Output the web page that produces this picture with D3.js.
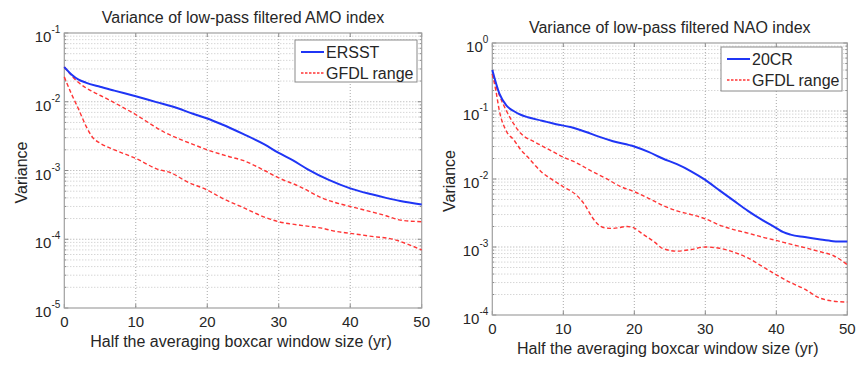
<!DOCTYPE html>
<html>
<head>
<meta charset="utf-8">
<script src="https://cdn.jsdelivr.net/npm/d3@7"></script>
<style>
  body { margin: 0; background: #fff; }
  svg { display: block; font-family: "Liberation Sans", Arial, sans-serif; }
  .grid line { stroke: #c4c4c4; stroke-width: 1; stroke-dasharray: 1,2; }
  .grid .major { stroke: #a8a8a8; }
</style>
</head>
<body>
<svg width="858" height="375"></svg>
<script>
// AMO panel (left)
const amoX     = [0, 1, 2, 3, 5, 7, 10, 13, 15, 18, 20, 22, 25, 28, 30, 32, 34, 37, 40, 43, 45, 47, 50];
const ersst    = [0.032, 0.025, 0.021, 0.019, 0.0165, 0.0145, 0.012, 0.0098, 0.0086, 0.0067, 0.0057, 0.0047,
                  0.0034, 0.0024, 0.0018, 0.0014, 0.00105, 0.00073, 0.00055, 0.00045, 0.0004, 0.00036, 0.00032];
const amoHiX   = [0, 1, 2, 3, 4, 6, 8, 10, 12, 14, 16, 18, 20, 23, 25, 28, 30, 33, 36, 38, 40, 43, 45, 47, 50];
const amoHi    = [0.032, 0.024, 0.019, 0.016, 0.014, 0.011, 0.0085, 0.0065, 0.0048, 0.0036, 0.0029, 0.0024, 0.002,
                  0.0016, 0.0014, 0.001, 0.00078, 0.00058, 0.0004, 0.00034, 0.0003, 0.00025, 0.00022, 0.00019, 0.00018];
const amoLoX   = [0, 1, 2, 3, 4, 5, 7, 10, 13, 15, 17, 20, 22, 25, 28, 30, 33, 36, 38, 40, 43, 46, 48, 50];
const amoLo    = [0.023, 0.013, 0.0078, 0.0045, 0.003, 0.0025, 0.002, 0.0015, 0.00105, 0.00092, 0.0007, 0.00052,
                  0.0004, 0.00029, 0.00021, 0.00018, 0.00016, 0.000145, 0.00013, 0.000122, 0.00011, 0.0001, 0.000085, 0.00007];

// NAO panel (right)
const naoX     = [0, 1, 2, 3, 4, 5, 7, 9, 11, 13, 15, 17, 20, 22, 24, 26, 28, 30, 32, 34, 36, 38, 40, 41, 42, 44, 46, 48, 50];
const cr20     = [0.4, 0.18, 0.12, 0.1, 0.088, 0.081, 0.072, 0.064, 0.058, 0.05, 0.042, 0.036, 0.03, 0.025, 0.02,
                  0.0165, 0.013, 0.0097, 0.0068, 0.0048, 0.0034, 0.0025, 0.0019, 0.00165, 0.00152, 0.0014, 0.0013, 0.00122, 0.0012];
const naoHiX   = [0, 1, 2, 3, 4, 6, 8, 10, 12, 14, 16, 18, 20, 22, 24, 26, 28, 30, 32, 34, 36, 38, 40, 42, 44, 46, 48, 50];
const naoHi    = [0.35, 0.17, 0.1, 0.065, 0.047, 0.035, 0.027, 0.021, 0.017, 0.013, 0.0102, 0.0078, 0.0065, 0.0052,
                  0.0041, 0.0034, 0.003, 0.0026, 0.0021, 0.0018, 0.0016, 0.0014, 0.00125, 0.0011, 0.00098, 0.00086, 0.00075, 0.00055];
const naoLoX   = [0, 0.5, 1, 2, 3, 4, 5, 6, 7, 8, 10, 12, 13, 14, 15, 16, 17, 19, 20, 21, 23, 24, 26, 28, 30, 32, 34,
                  36, 38, 40, 42, 44, 46, 48, 50];
const naoLo    = [0.35, 0.2, 0.1, 0.05, 0.038, 0.027, 0.021, 0.016, 0.0125, 0.0105, 0.0077, 0.0056, 0.0042, 0.0028,
                  0.0021, 0.0019, 0.00188, 0.002, 0.0019, 0.0016, 0.00115, 0.00095, 0.00087, 0.00092, 0.001, 0.00096,
                  0.00084, 0.00069, 0.00052, 0.00039, 0.0003, 0.00024, 0.00018, 0.00016, 0.000155];

const xTicks = [0, 10, 20, 30, 40, 50];
const legendNames = { amo: ['ERSST', 'GFDL range'], nao: ['20CR', 'GFDL range'] };

const svg = d3.select('svg');
const textColor = '#262626';

function zip(xs, ys) { return xs.map((x, i) => ({ x: x, y: ys[i] })); }

function drawPanel(p) {
  const x = d3.scaleLinear().domain([0, 50]).range([p.left, p.right]);
  const y = d3.scaleLog().domain(p.yDomain).range([p.bottom, p.top]);
  const g = svg.append('g');

  const lo = Math.round(Math.log10(p.yDomain[0]));
  const hi = Math.round(Math.log10(p.yDomain[1]));
  const decades = d3.range(lo, hi + 1);
  const minors = [];
  decades.slice(0, -1).forEach(k => { for (let m = 2; m <= 9; m++) minors.push(m * Math.pow(10, k)); });

  // grid
  const grid = g.append('g').attr('class', 'grid');
  grid.selectAll('.ym').data(minors).enter().append('line')
    .attr('x1', p.left).attr('x2', p.right)
    .attr('y1', d => y(d)).attr('y2', d => y(d));
  grid.selectAll('.yM').data(decades.slice(1, -1)).enter().append('line')
    .attr('class', 'major')
    .attr('x1', p.left).attr('x2', p.right)
    .attr('y1', d => y(Math.pow(10, d))).attr('y2', d => y(Math.pow(10, d)));
  grid.selectAll('.xg').data(xTicks.slice(1, -1)).enter().append('line')
    .attr('class', 'major')
    .attr('x1', d => x(d)).attr('x2', d => x(d))
    .attr('y1', p.top).attr('y2', p.bottom);

  // inward ticks on all four sides
  const tickColor = '#8a8a8a';
  const ticks = g.append('g').attr('stroke', tickColor).attr('stroke-width', 1);
  xTicks.forEach(t => {
    ticks.append('line').attr('x1', x(t)).attr('x2', x(t)).attr('y1', p.bottom).attr('y2', p.bottom - 4);
    ticks.append('line').attr('x1', x(t)).attr('x2', x(t)).attr('y1', p.top).attr('y2', p.top + 4);
  });
  minors.forEach(v => {
    ticks.append('line').attr('x1', p.left).attr('x2', p.left + 2).attr('y1', y(v)).attr('y2', y(v));
    ticks.append('line').attr('x1', p.right).attr('x2', p.right - 2).attr('y1', y(v)).attr('y2', y(v));
  });
  decades.forEach(k => {
    const v = Math.pow(10, k);
    ticks.append('line').attr('x1', p.left).attr('x2', p.left + 4).attr('y1', y(v)).attr('y2', y(v));
    ticks.append('line').attr('x1', p.right).attr('x2', p.right - 4).attr('y1', y(v)).attr('y2', y(v));
  });

  g.append('rect')
    .attr('x', p.left).attr('y', p.top)
    .attr('width', p.right - p.left).attr('height', p.bottom - p.top)
    .attr('fill', 'none').attr('stroke', '#a0a0a0').attr('stroke-width', 1.2);

  // x tick labels
  g.selectAll('.xl').data(xTicks).enter().append('text')
    .attr('x', d => x(d)).attr('y', p.bottom + 19)
    .attr('text-anchor', 'middle').attr('font-size', 15).attr('fill', textColor)
    .text(d => d);

  // y tick labels 10^k
  const yl = g.selectAll('.yl').data(decades).enter().append('text')
    .attr('x', p.left - 4).attr('y', d => y(Math.pow(10, d)) + 9)
    .attr('text-anchor', 'end').attr('fill', textColor);
  yl.append('tspan').attr('font-size', 15).text('10');
  yl.append('tspan').attr('font-size', 10).attr('dy', -9).text(d => d === 0 ? '0' : '-' + (-d));

  // titles
  g.append('text').attr('x', (p.left + p.right) / 2).attr('y', p.top - 10)
    .attr('text-anchor', 'middle').attr('font-size', 16).attr('fill', textColor).text(p.title);
  g.append('text').attr('x', (p.left + p.right) / 2 - 2).attr('y', p.bottom + 39)
    .attr('text-anchor', 'middle').attr('font-size', 16).attr('fill', textColor)
    .text('Half the averaging boxcar window size (yr)');
  g.append('text')
    .attr('transform', `translate(${p.left - 37},${(p.top + p.bottom) / 2 + 2}) rotate(-90)`)
    .attr('text-anchor', 'middle').attr('font-size', 16).attr('fill', textColor).text('Variance');

  // series
  const line = d3.line().x(d => x(d.x)).y(d => y(d.y)).curve(d3.curveMonotoneX);
  const series = g.append('g');
  p.reds.forEach(s => {
    series.append('path').datum(s).attr('d', line)
      .attr('fill', 'none').attr('stroke', '#ff3535').attr('stroke-width', 1.4)
      .attr('stroke-dasharray', '4,2.5');
  });
  series.append('path').datum(p.blue).attr('d', line)
    .attr('fill', 'none').attr('stroke', '#1f35f5').attr('stroke-width', 2);

  // legend
  const L = p.legend;
  const lg = g.append('g');
  lg.append('rect').attr('x', L.x).attr('y', L.y).attr('width', L.w).attr('height', L.h)
    .attr('fill', '#fff').attr('stroke', '#8a8a8a').attr('stroke-width', 1);
  lg.append('line').attr('x1', L.x + 6).attr('x2', L.x + 29)
    .attr('y1', L.y + 12).attr('y2', L.y + 12)
    .attr('stroke', '#1f35f5').attr('stroke-width', 2);
  lg.append('line').attr('x1', L.x + 6).attr('x2', L.x + 29)
    .attr('y1', L.y + 33).attr('y2', L.y + 33)
    .attr('stroke', '#ff3535').attr('stroke-width', 1.4).attr('stroke-dasharray', '2.5,1.5');
  lg.selectAll('.lt').data(p.names).enter().append('text')
    .attr('x', L.x + 31).attr('y', (d, i) => L.y + 17.5 + i * 21)
    .attr('font-size', 16).attr('fill', textColor).text(d => d);
}

drawPanel({
  left: 64.3, right: 421.7, top: 33, bottom: 308,
  yDomain: [1e-5, 1e-1],
  title: 'Variance of low-pass filtered AMO index',
  blue: zip(amoX, ersst),
  reds: [zip(amoHiX, amoHi), zip(amoLoX, amoLo)],
  names: legendNames.amo,
  legend: { x: 295, y: 40, w: 122, h: 42 }
});

drawPanel({
  left: 492.3, right: 847.3, top: 43, bottom: 315,
  yDomain: [1e-4, 1],
  title: 'Variance of low-pass filtered NAO index',
  blue: zip(naoX, cr20),
  reds: [zip(naoHiX, naoHi), zip(naoLoX, naoLo)],
  names: legendNames.nao,
  legend: { x: 721, y: 47, w: 121, h: 44 }
});
</script>
</body>
</html>
